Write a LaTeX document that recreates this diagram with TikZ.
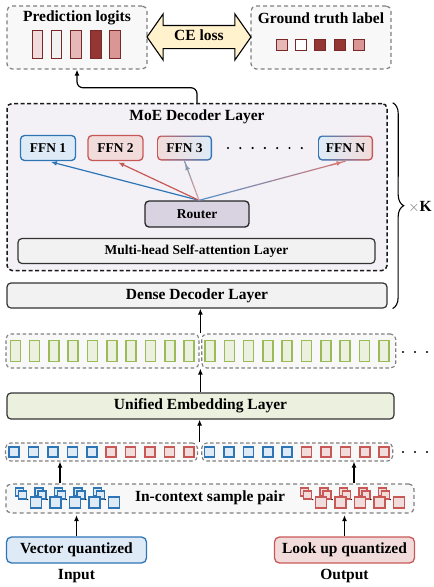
\documentclass[tikz,border=0pt]{standalone}
\usepackage{fontspec}
\setmainfont{Liberation Serif}
\usetikzlibrary{positioning,arrows.meta,calc,shapes.arrows,decorations.pathreplacing}
\definecolor{EdgeGray}{RGB}{128,128,128}
\definecolor{PanelGray}{RGB}{248,248,248}
\definecolor{LayerGray}{RGB}{242,242,242}
\definecolor{MoeBand}{RGB}{243,240,246}
\definecolor{QBlue}{RGB}{46,117,182}
\definecolor{QBlueFill}{RGB}{222,235,247}
\definecolor{QRed}{RGB}{200,88,85}
\definecolor{QRedFill}{RGB}{242,220,219}
\definecolor{EmbGreen}{RGB}{155,187,89}
\definecolor{EmbFill}{RGB}{235,241,222}
\definecolor{RouterFill}{RGB}{217,210,225}
\definecolor{LossFill}{RGB}{255,242,204}
\definecolor{LogitDark}{RGB}{148,54,52}
\definecolor{LogitMid}{RGB}{217,150,148}
\definecolor{LogitLight}{RGB}{230,185,184}
\definecolor{LogitPale}{RGB}{242,220,219}
\definecolor{LogitEdge}{RGB}{120,40,38}
\definecolor{ArrowSlate}{RGB}{132,151,176}
\newcommand{\bigsize}{\fontsize{15.5pt}{18pt}\selectfont}
\newcommand{\midsize}{\fontsize{13.5pt}{16pt}\selectfont}
\tikzset{
  up/.style={-{Latex[length=6pt,width=5pt]},line width=1.2pt,draw=black},
  fan/.style={-{Latex[length=6pt,width=5pt]},line width=1.2pt,shorten >=3pt},
  panel/.style={draw=EdgeGray,dash pattern=on 4pt off 3pt,line width=1.2pt,
    fill=PanelGray,rounded corners=5pt},
  tokgroup/.style={draw=EdgeGray,dash pattern=on 3.5pt off 2.5pt,line width=1.1pt,
    fill=PanelGray,rounded corners=5pt,minimum height=34pt},
  layer/.style={draw=black!80,fill=LayerGray,rounded corners=4pt,line width=1.2pt,
    minimum height=25pt,font=\bigsize\bfseries},
  ffn/.style={rounded corners=4pt,line width=1.3pt,minimum width=55pt,
    minimum height=25pt,font=\midsize\bfseries},
  logit/.style={draw=LogitEdge,line width=1.4pt,minimum width=10.5pt,minimum height=27.5pt},
  label/.style={draw=LogitEdge,line width=1.4pt,minimum width=10.5pt,minimum height=10.5pt},
  embtok/.style={draw=EmbGreen,fill=EmbFill,line width=1.6pt,minimum width=10pt,minimum height=21pt},
  bluetok/.style={draw=QBlue,fill=QBlueFill,line width=1.5pt,minimum width=10pt,minimum height=10pt},
  redtok/.style={draw=QRed,fill=QRedFill,line width=1.5pt,minimum width=10pt,minimum height=10pt},
  bluepatch/.style={draw=QBlue,fill=QBlueFill,line width=1.3pt},
  redpatch/.style={draw=QRed,fill=QRedFill,line width=1.3pt},
  lossarrow/.style={double arrow,draw=black,fill=LossFill,line width=1.1pt,
    minimum height=104pt,double arrow head extend=11.5pt,double arrow tip angle=110,
    inner ysep=5.5pt,text height=9pt,text depth=2pt,font=\bigsize\bfseries}
}

\begin{document}
\begin{tikzpicture}[x=1pt,y=-1pt]
  \useasboundingbox (0,0) rectangle (434,587);
  % outputs and loss
  \node[panel,minimum width=140pt,minimum height=63pt] (pred) at (77,37.5) {};
  \node[font=\bigsize\bfseries] (predtitle) at (77,18) {Prediction logits};
  \foreach \bx/\bc [count=\k] in {37.5/LogitPale,56.5/LayerGray,76/LogitLight,96/LogitDark,115/LogitMid}
    \node[logit,fill=\bc] (logit\k) at (\bx,44.5) {};
  \node[panel,minimum width=140pt,minimum height=63pt] (truth) at (321,37.5) {};
  \node[font=\bigsize\bfseries] (truthtitle) at (321,18) {Ground truth label};
  \foreach \bx/\bc [count=\k] in {282/LogitLight,301/white,320/LogitDark,340/LogitDark,359/LogitMid}
    \node[label,fill=\bc] (gt\k) at (\bx,45) {};
  \node[lossarrow] (celoss) at (199,37) {CE loss};

  % decoder stack
  \node[draw=black!90,fill=MoeBand,dash pattern=on 4pt off 2.5pt,line width=1.5pt,rounded corners=5pt,
    minimum width=380pt,minimum height=167pt] (moe) at (197,187) {};
  \node[font=\bigsize\bfseries] (moetitle) at (197,117) {MoE Decoder Layer};
  \node[ffn,draw=QBlue,fill=QBlueFill] (ffn1) at (48,148) {FFN 1};
  \node[ffn,draw=QRed,fill=QRedFill] (ffn2) at (115.5,148) {FFN 2};
  \node[ffn,left color=QRed,right color=QBlue] (ffn3) at (184.5,148) {};
  \node[ffn,minimum width=52.4pt,minimum height=22.4pt,rounded corners=3.3pt,
    left color=QRedFill,middle color=white,right color=QBlueFill] at (ffn3) {FFN 3};
  \node[ffn,left color=QBlue,right color=QRed] (ffnN) at (345.5,148) {};
  \node[ffn,minimum width=52.4pt,minimum height=22.4pt,rounded corners=3.3pt,
    left color=QBlueFill,middle color=white,right color=QRedFill] at (ffnN) {FFN N};
  \foreach \k in {0,...,6}
    \fill (228+12.3*\k,148) circle (1.2pt);
  \node[draw=black!85,fill=RouterFill,rounded corners=4pt,line width=1.3pt,minimum width=104pt,
    minimum height=26pt,font=\midsize\bfseries] (router) at (197,214) {Router};
  \node[layer,minimum width=357pt,font=\midsize\bfseries] (attn) at (196.5,251) {Multi-head Self-attention Layer};
  \node[layer,minimum width=380pt] (dense) at (197,295.5) {Dense Decoder Layer};
  \coordinate (fanout) at ($(router.north)+(2,0)$);
  \draw[fan,QBlue] (fanout) -- (ffn1.south);
  \draw[fan,QRed] (fanout) -- (ffn2.south);
  % shaded experts arrows
  \foreach \s in {0,...,9}{
    \pgfmathtruncatemacro\mix{100-\s*100/9}
    \draw[line width=1.2pt,QRed!60!white!\mix!ArrowSlate]
      ($(fanout)!\s/10!(ffn3.south)$) -- ($(fanout)!\s/10+0.1!(ffn3.south)$);
    \draw[line width=1.2pt,QBlue!\mix!QRed!80]
      ($(fanout)!\s/10!(ffnN.south)$) -- ($(fanout)!\s/10+0.1!(ffnN.south)$);
  }
  \draw[fan,ArrowSlate] ($(fanout)!0.9!(ffn3.south)$) -- (ffn3.south);
  \draw[fan,QRed!80] ($(fanout)!0.9!(ffnN.south)$) -- (ffnN.south);
  \draw[up,rounded corners=6pt] (moe.north) -- ++(0,-15) -| (pred.south);
  \draw[decorate,decoration={brace,amplitude=11pt},line width=1.1pt]
    ($(moe.north east)+(5,0)$) -- ($(dense.south east)+(5,0)$);
  \node (times) at (420,207) {\bigsize\textcolor{black!55}{$\times$}\textbf{K}};

  % embeddings
  \node[tokgroup,minimum width=193pt] (embL) at (102.5,351) {};
  \node[tokgroup,minimum width=194pt] (embR) at (298.7,351) {};
  \foreach \k in {0,...,9}{
    \node[embtok] at ({15.3+19.3*\k},351) {};
    \node[embtok] at ({210+19.3*\k},351) {};
  }
  \node[layer,fill=EmbFill,minimum width=387pt,minimum height=26pt] (unified) at (200.5,406) {Unified Embedding Layer};
  \node[tokgroup,minimum width=192pt,minimum height=18pt] (tokL) at (101.5,452) {};
  \node[tokgroup,minimum width=191pt,minimum height=18pt] (tokR) at (297.2,452) {};
  \foreach \k in {0,...,4}{
    \node[bluetok] at ({14.2+19.4*\k},452) {};
    \node[redtok] at ({111.2+19.4*\k},452) {};
    \node[bluetok] at ({209.6+19.4*\k},452) {};
    \node[redtok] at ({306.6+19.4*\k},452) {};
  }
  \foreach \k in {0,1,2}{
    \fill (403+12*\k,352) circle (1.2pt);
    \fill (403+12*\k,452) circle (1.2pt);
  }
  \coordinate (embgap) at ($(embL.north east)!0.5!(embR.north west)$);
  \draw[up] (embgap) -- (embgap |- dense.south);
  \draw[up] (embgap |- unified.north) -- (embgap |- embL.south);
  \coordinate (tokgap) at ($(tokL.north east)!0.5!(tokR.north west)$);
  \draw[up] (tokgap) -- (tokgap |- unified.south);

  % in-context pair
  \node[panel,minimum width=408pt,minimum height=29pt] (ctx) at (210,498.5) {};
  \node[font=\bigsize\bfseries] (ctxtext) at (210,498) {In-context sample pair};
  \foreach \c in {0,...,4}{
    \pgfmathsetmacro\cx{15.7+19.4*\c}
    \pgfmathsetmacro\rx{300.7+19.4*\c}
    \filldraw[bluepatch] (\cx,488) rectangle ++(8,8);
    \filldraw[bluepatch] ({\cx+3},491) rectangle ++(8,8);
    \fill ({\cx+12},499.5) circle (0.7pt);
    \filldraw[redpatch] (\rx,488) rectangle ++(8,8);
    \filldraw[redpatch] ({\rx+3},491) rectangle ++(8,8);
    \fill ({\rx+12},499.5) circle (0.7pt);
  }
  \foreach \c in {0,...,4}{
    \pgfmathsetmacro\cx{15.7+19.4*\c}
    \pgfmathsetmacro\rx{300.7+19.4*\c}
    \filldraw[bluepatch] ({\cx+15},497) rectangle ++(11,11);
    \filldraw[redpatch] ({\rx+15},497) rectangle ++(11,11);
  }
  \coordinate (inup) at (60,0);
  \coordinate (outup) at (354,0);
  \draw[up] (ctx.north -| inup) -- (inup |- tokL.south);
  \draw[up] (ctx.north -| outup) -- (outup |- tokR.south);

  % inputs
  \node[draw=QBlue,fill=QBlueFill,rounded corners=5pt,line width=1.3pt,minimum width=140pt,
    minimum height=26pt,font=\bigsize\bfseries] (vq) at (76.5,550) {Vector quantized};
  \node[draw=QRed,fill=QRedFill,rounded corners=5pt,line width=1.3pt,minimum width=140pt,
    minimum height=26pt,font=\bigsize\bfseries] (lq) at (344.5,550) {Look up quantized};
  \node[font=\bigsize\bfseries,below=2pt of vq] (inlabel) {Input};
  \node[font=\bigsize\bfseries,below=2pt of lq] (outlabel) {Output};
  \draw[up,shorten >=1.5pt] (vq.north) -- (vq.north |- ctx.south);
  \draw[up,shorten >=1.5pt] (lq.north) -- (lq.north |- ctx.south);
\end{tikzpicture}
\end{document}
